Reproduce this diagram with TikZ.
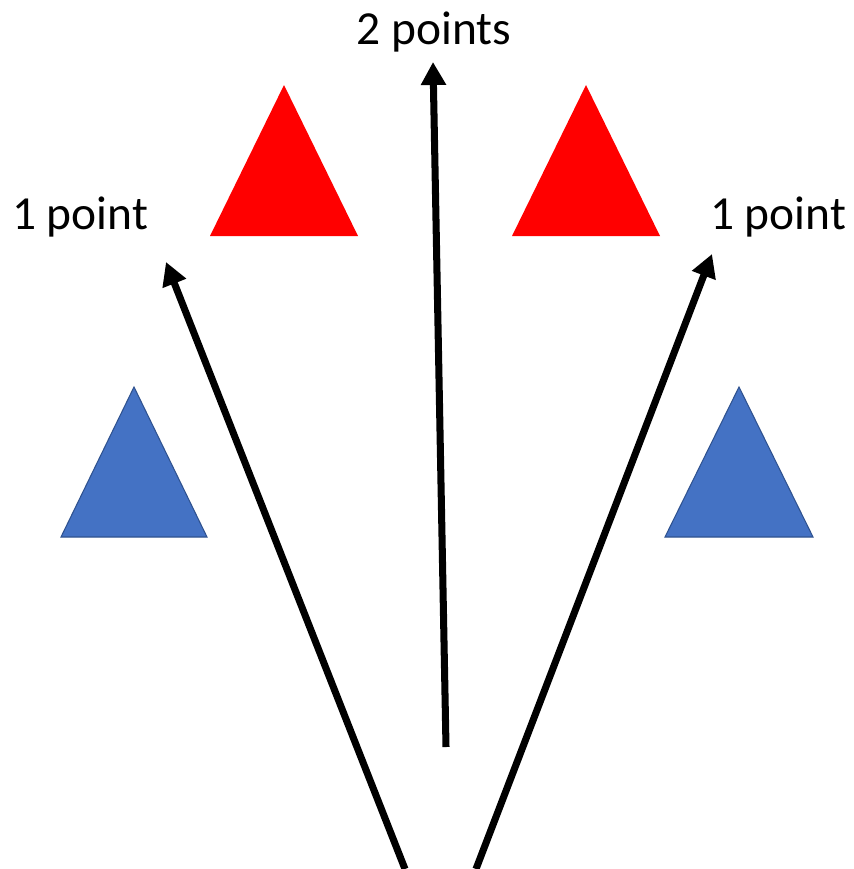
\documentclass[tikz,border=0pt]{standalone}
\usepackage{fontspec}
\setmainfont{Carlito}
\usepackage{tikz}
\usetikzlibrary{
    positioning,
    arrows.meta
}
\definecolor{conored}{HTML}{FF0000}
\definecolor{conoblue}{HTML}{4472C4}
\definecolor{conoedge}{HTML}{2F528F}
\tikzset{
    >={Triangle[length=0.46cm,width=0.48cm]},
    redcone/.style={fill=conored, draw=none},
    bluecone/.style={fill=conoblue, draw=conoedge, line width=0.6pt, line join=miter},
    shot/.style={->, line width=4pt},
    score/.style={font=\fontsize{27}{32}\selectfont, inner sep=0pt}
}

\begin{document}
\begin{tikzpicture}[
    x=0.02cm,
    y=-0.02cm
]
    \useasboundingbox (0,0) rectangle (854,869);

    % Conos
    \fill[redcone]  (210,236) -- (284,85)  -- (358,236) -- cycle;
    \fill[redcone]  (512,236) -- (586,85)  -- (660,236) -- cycle;
    \filldraw[bluecone] (61,537)  -- (134,387) -- (207,537) -- cycle;
    \filldraw[bluecone] (665,537) -- (739,387) -- (813,537) -- cycle;

    % Puntos
    \node[score] (mid)   at (434,32)  {2 points};
    \node[score] (left)  at (80,217)  {1 point};
    \node[score] (right) at (778,217) {1 point};

    % Tiros
    \coordinate (sL) at (405,869);
    \coordinate (sR) at (476,869);
    \coordinate (sM) at (446,747);
    \coordinate (eL) at (166,262);
    \coordinate (eR) at (712,254);
    \coordinate (eM) at (433,62);

    \draw[shot] (sM) -- (eM);
    \draw[shot] (sL) -- (eL);
    \draw[shot] (sR) -- (eR);

\end{tikzpicture}
\end{document}
